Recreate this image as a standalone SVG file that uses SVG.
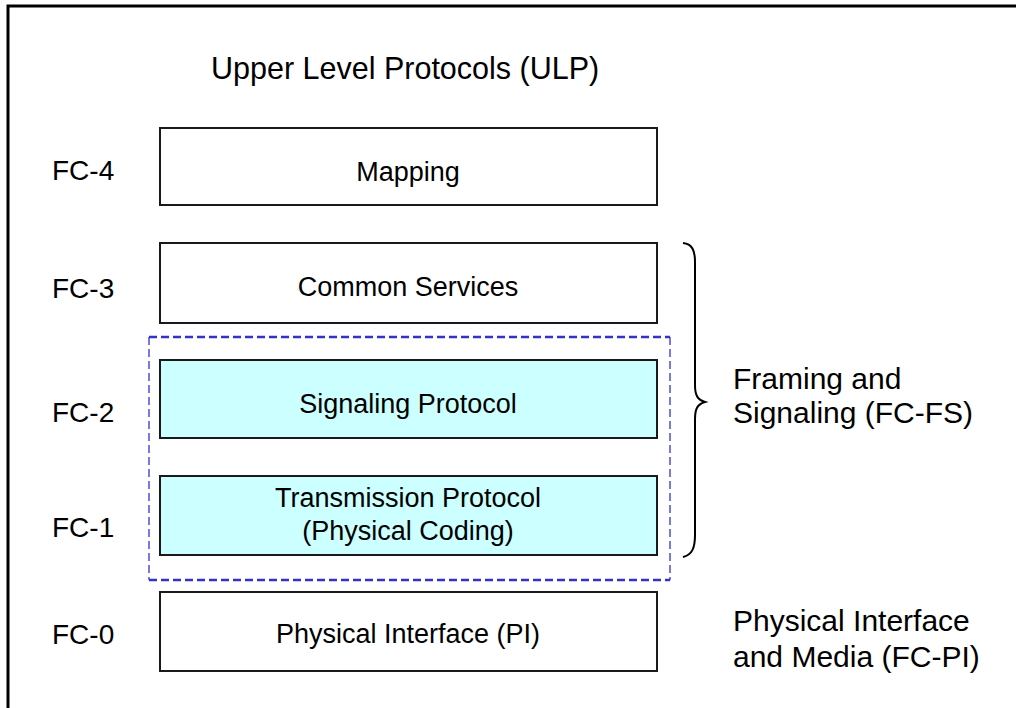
<svg xmlns="http://www.w3.org/2000/svg" width="1016" height="708" viewBox="0 0 1016 708">
<style>
text{font-family:"Liberation Sans",Arial,sans-serif;fill:#000}
.box{stroke:#1a1a1a;stroke-width:2}
.white{fill:#fff}
.cyan{fill:#ccffff}
.lbl{font-size:27px;text-anchor:middle}
.fc{font-size:28px}
.side{font-size:30px}
.dash{fill:none;stroke:#3333cc;stroke-dasharray:8,4}
</style>
<rect width="1016" height="708" fill="#fff"/>
<rect x="8" y="6" width="1030" height="730" fill="none" stroke="#000" stroke-width="3"/>
<text x="211" y="79" style="font-size:30.5px">Upper Level Protocols (ULP)</text>
<g id="group-fs">
<path class="dash" d="M149,337 H670 M149,580 H670" stroke-width="2.5"/>
<path class="dash" d="M149,337 V580 M670,337 V580" stroke-width="1.3"/>
</g>
<g id="fc4"><text class="fc" x="52" y="180">FC-4</text><rect class="box white" x="160" y="128" width="497" height="77"/><text class="lbl" x="408" y="181">Mapping</text></g>
<g id="fc3"><text class="fc" x="52" y="298">FC-3</text><rect class="box white" x="160" y="243" width="497" height="80"/><text class="lbl" x="408" y="296">Common Services</text></g>
<g id="fc2"><text class="fc" x="52" y="422">FC-2</text><rect class="box cyan" x="160" y="360" width="497" height="78"/><text class="lbl" x="408" y="413">Signaling Protocol</text></g>
<g id="fc1"><text class="fc" x="52" y="537">FC-1</text><rect class="box cyan" x="160" y="476" width="497" height="79"/><text class="lbl" x="408" y="507">Transmission Protocol</text><text class="lbl" x="408" y="540">(Physical Coding)</text></g>
<g id="fc0"><text class="fc" x="52" y="644">FC-0</text><rect class="box white" x="160" y="592" width="497" height="79"/><text class="lbl" x="408" y="643">Physical Interface (PI)</text></g>
<g id="connectors">
<path d="M683,243 C692,244 695,250 695,262 L695,385 C695,396 698,400 705,402 C698,404 695,408 695,419 L695,535 C695,548 692,555 683,557" fill="none" stroke="#000" stroke-width="2"/>
</g>
<g id="fcfs"><text class="side" x="733" y="389">Framing and</text><text class="side" x="733" y="423">Signaling (FC-FS)</text></g>
<g id="fcpi"><text class="side" x="733" y="631">Physical Interface</text><text class="side" x="733" y="667">and Media (FC-PI)</text></g>
</svg>
